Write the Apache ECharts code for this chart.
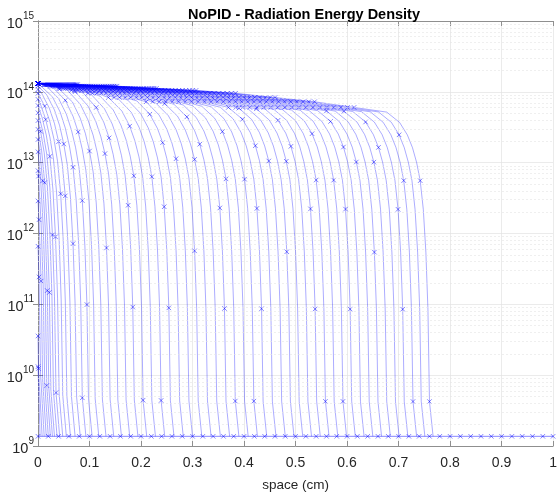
<!DOCTYPE html>
<html>
<head>
<meta charset="utf-8">
<script src="https://cdn.jsdelivr.net/npm/echarts@6/dist/echarts.min.js"></script>
<style>
  html, body { margin: 0; padding: 0; background: #fff; }
  #chart { width: 560px; height: 497px; }
</style>
</head>
<body>
<div id="chart"></div>
<script>
// front position (cm) of each saved profile, read where it reaches the floor
const fronts = [0.004, 0.008, 0.012, 0.016, 0.02, 0.024, 0.028, 0.032, 0.037, 0.042,
    0.048, 0.055, 0.063, 0.072, 0.082, 0.093, 0.105, 0.118, 0.132, 0.147,
    0.162, 0.178, 0.194, 0.211, 0.228, 0.246, 0.264, 0.282, 0.3, 0.318,
    0.336, 0.354, 0.372, 0.39, 0.408, 0.426, 0.444, 0.462, 0.48, 0.497,
    0.514, 0.531, 0.548, 0.565, 0.582, 0.599, 0.616, 0.633, 0.65, 0.667,
    0.684, 0.701, 0.718, 0.735, 0.751, 0.767];

// boundary value at x = 0 (log10)
const edgeLog = 14.12;

// plateau behind the front: x / front and log10 drop below the boundary value
const plateauU = [0, 0.1, 0.2, 0.3, 0.4, 0.5, 0.6, 0.7, 0.8, 0.9, 1.0];
const plateauRel = [0, -0.02, -0.04, -0.07, -0.1, -0.14, -0.2, -0.26, -0.34, -0.42, -0.5];

// the front itself: distance behind the front (cm) and extra log10 drop
const dropD = [0.007, 0.01, 0.014, 0.019, 0.025, 0.032, 0.04, 0.05, 0.065, 0.09];
const dropRel = [-4.0, -2.7, -1.9, -1.3, -0.9, -0.65, -0.45, -0.28, -0.12, 0];

// floor value ahead of the wave and the mesh points drawn there
const floorValue = 1.37e9;
const floorX = [0, 0.02, 0.04, 0.06, 0.08, 0.1, 0.12, 0.14, 0.16, 0.18, 0.2,
    0.22, 0.24, 0.26, 0.28, 0.3, 0.32, 0.34, 0.36, 0.38, 0.4,
    0.42, 0.44, 0.46, 0.48, 0.5, 0.52, 0.54, 0.56, 0.58, 0.6,
    0.62, 0.64, 0.66, 0.68, 0.7, 0.72, 0.74, 0.76, 0.78, 0.8,
    0.82, 0.84, 0.86, 0.88, 0.9, 0.92, 0.94, 0.96, 0.98, 1.0];

const yDecades = [9, 10, 11, 12, 13, 14, 15];

var blue = '#0000ff';
var xMark = 'path://M0,0L10,10M10,0L0,10';

// read a value off one of the shape tables above
function lookup(xs, ys, v) {
    if (v <= xs[0]) return ys[0];
    if (v >= xs[xs.length - 1]) return ys[ys.length - 1];
    for (var i = 1; i < xs.length; i++) {
        if (v <= xs[i]) {
            var t = (v - xs[i - 1]) / (xs[i] - xs[i - 1]);
            return ys[i - 1] + t * (ys[i] - ys[i - 1]);
        }
    }
}

var series = [];
var markPts = [];

fronts.forEach(function(f, k) {
    var xsP = [0];
    plateauU.forEach(function(u) {
        if (u > 0 && u * f < f - dropD[dropD.length - 1]) xsP.push(u * f);
    });
    var xsD = [];
    dropD.slice().reverse().forEach(function(d) {
        if (d < f) xsD.push(f - d);
    });
    var valueAt = function(x) {
        var lg = edgeLog + lookup(plateauU, plateauRel, x / f) + lookup(dropD, dropRel, f - x);
        return [x, Math.pow(10, lg)];
    };
    var ptsP = xsP.map(valueAt);
    var ptsD = xsD.map(valueAt);
    var pts = ptsP.concat(ptsD, [[f, floorValue]]);

    ptsP.forEach(function(p) { markPts.push(p); });
    // a couple of markers on the steep part, varying from curve to curve
    var n = ptsD.length;
    if (n > 0) {
        var a = (k * 3) % n;
        var b = (k * 7 + 4) % n;
        markPts.push(ptsD[a]);
        if (b !== a) markPts.push(ptsD[b]);
    }
    series.push({
        type: 'line',
        data: pts,
        symbol: 'none',
        silent: true,
        z: 3,
        lineStyle: { color: blue, width: 0.6, opacity: 0.55 }
    });
});

// floor line
series.push({
    type: 'line',
    data: floorX.map(function(x) { return [x, floorValue]; }),
    symbol: 'none',
    silent: true,
    z: 3,
    lineStyle: { color: blue, width: 0.8, opacity: 0.6 }
});
floorX.forEach(function(x) { markPts.push([x, floorValue]); });

// x markers
series.push({
    type: 'scatter',
    data: markPts,
    symbol: xMark,
    symbolSize: 4.5,
    silent: true,
    z: 4,
    itemStyle: { color: 'none', borderColor: blue, borderWidth: 0.7, opacity: 0.7 }
});

// minor log grid lines
var minorLines = [];
yDecades.slice(0, -1).forEach(function(d) {
    for (var m = 2; m <= 9; m++) minorLines.push({ yAxis: m * Math.pow(10, d) });
});
series.push({
    type: 'line',
    data: [],
    z: 1,
    silent: true,
    markLine: {
        silent: true,
        symbol: 'none',
        label: { show: false },
        animation: false,
        lineStyle: { color: '#e4e4e4', width: 0.6, type: [2, 2] },
        data: minorLines
    }
});

var axisGrey = '#8f8f8f';
var labelColor = '#262626';
var fontFam = '"Liberation Sans", Arial, Helvetica, sans-serif';

var option = {
    animation: false,
    backgroundColor: '#fff',
    title: {
        text: 'NoPID - Radiation Energy Density',
        left: 299,
        top: 2,
        textAlign: 'center',
        textStyle: { fontSize: 14.5, fontWeight: 'bold', color: '#000', fontFamily: fontFam }
    },
    grid: { left: 38, right: 2, top: 21, bottom: 44, containLabel: false },
    xAxis: [{
        type: 'value',
        min: 0, max: 1, interval: 0.1,
        name: 'space (cm)',
        nameLocation: 'middle',
        nameGap: 32,
        nameTextStyle: { fontSize: 13.5, color: labelColor, fontFamily: fontFam },
        axisLine: { show: true, lineStyle: { color: axisGrey, width: 1 } },
        axisTick: { show: true, inside: true, length: 5, lineStyle: { color: axisGrey } },
        axisLabel: {
            fontSize: 14, color: labelColor, margin: 10, fontFamily: fontFam,
            formatter: function(v) { return String(+v.toFixed(1)); }
        },
        splitLine: { show: true, lineStyle: { color: '#e3e3e3', width: 0.7 } }
    }, {
        type: 'value',
        position: 'top',
        min: 0, max: 1, interval: 0.1,
        axisLine: { show: true, lineStyle: { color: axisGrey, width: 1 } },
        axisTick: { show: true, inside: true, length: 5, lineStyle: { color: axisGrey } },
        axisLabel: { show: false },
        splitLine: { show: false }
    }],
    yAxis: [{
        type: 'log',
        logBase: 10,
        min: 1e9, max: 1e15,
        axisLine: { show: true, lineStyle: { color: axisGrey, width: 1 } },
        axisTick: { show: true, inside: true, length: 5, lineStyle: { color: axisGrey } },
        axisLabel: {
            margin: 4,
            color: labelColor,
            fontFamily: fontFam,
            formatter: function(v) {
                return '{b|10}{e|' + Math.round(Math.log10(v)) + '}';
            },
            rich: {
                b: { fontSize: 14.5, color: labelColor, fontFamily: fontFam, padding: [5, 0, 0, 0] },
                e: { fontSize: 10, color: labelColor, fontFamily: fontFam, verticalAlign: 'top' }
            }
        },
        splitLine: { show: true, lineStyle: { color: '#e3e3e3', width: 0.7 } }
    }, {
        type: 'log',
        logBase: 10,
        position: 'right',
        min: 1e9, max: 1e15,
        axisLine: { show: true, lineStyle: { color: axisGrey, width: 1 } },
        axisTick: { show: true, inside: true, length: 5, lineStyle: { color: axisGrey } },
        axisLabel: { show: false },
        splitLine: { show: false }
    }],
    series: series
};

var myChart = echarts.init(document.getElementById('chart'), null, { renderer: 'canvas' });
myChart.setOption(option);
</script>
</body>
</html>
